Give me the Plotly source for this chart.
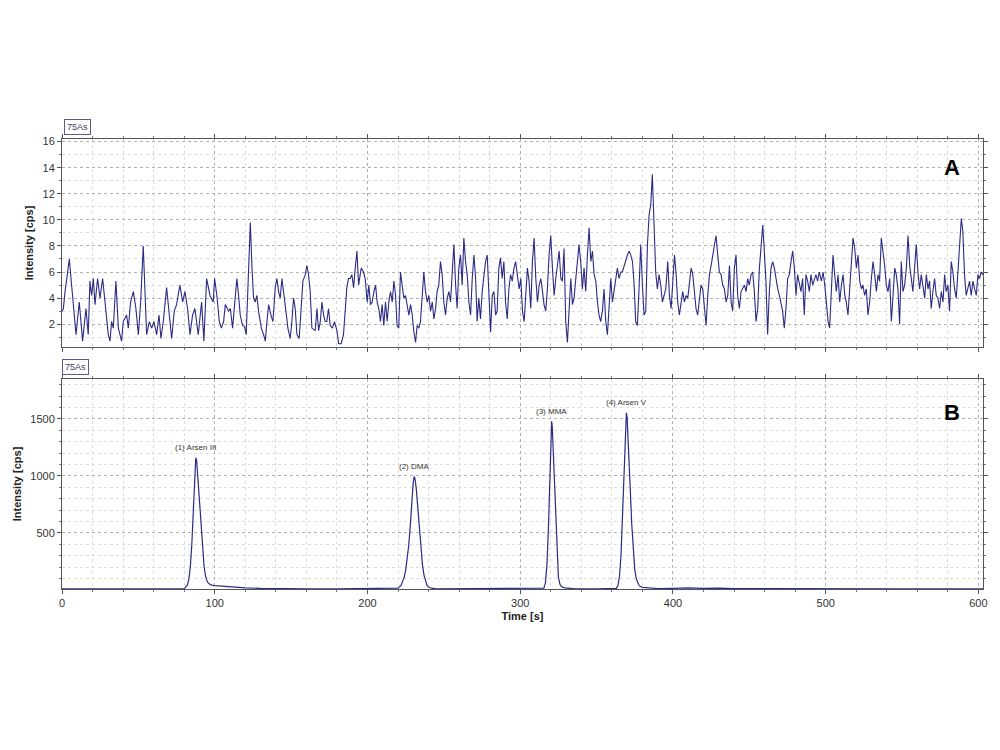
import plotly.graph_objects as go
from plotly.subplots import make_subplots

# ---------------- data ----------------
# Panel A: noisy 75As signal (time [s], intensity [cps])
trace_a_points = [
    (0.0, 3.0), (0.9, 3.2), (2.0, 4.5), (4.8, 7.0), (5.9, 5.5), (7.4, 3.7), (9.2, 1.2), (11.3, 3.7), (13.5, 0.7),
    (15.7, 3.2), (17.2, 1.2), (18.3, 5.3), (19.4, 4.2), (20.5, 5.5), (21.6, 3.5), (23.3, 5.5), (24.9, 4.0),
    (26.6, 5.5), (28.1, 3.7), (30.3, 1.2), (31.4, 0.7), (32.5, 2.2), (33.6, 1.7), (34.2, 2.7), (35.3, 5.3),
    (36.9, 1.7), (39.0, 0.7), (40.1, 2.2), (42.3, 2.7), (43.4, 1.7), (44.9, 3.7), (46.7, 4.5), (48.4, 3.2),
    (50.0, 1.2), (51.5, 3.7), (53.2, 8.0), (54.3, 4.5), (55.4, 1.2), (57.2, 2.2), (58.7, 1.7), (60.2, 2.2),
    (62.0, 1.2), (63.5, 2.7), (64.8, 0.9), (66.3, 2.2), (68.5, 4.8), (70.7, 2.2), (71.8, 0.9), (73.5, 3.0),
    (75.0, 3.5), (77.2, 5.0), (79.0, 3.7), (80.5, 4.5), (82.2, 3.2), (83.8, 1.2), (85.5, 2.7), (87.0, 3.2),
    (89.2, 1.2), (91.4, 3.7), (92.9, 0.7), (94.7, 5.5), (96.9, 4.2), (99.0, 3.7),
    (99.9, 5.5), (101.4, 4.2), (103.0, 2.2), (104.3, 1.7), (105.8, 2.2), (106.9, 3.5), (108.0, 3.2),
    (109.1, 3.0), (110.2, 3.2), (111.7, 1.7), (113.0, 3.5), (114.5, 5.5), (115.6, 4.2), (116.7, 2.7),
    (118.2, 1.9), (119.5, 1.8), (120.6, 1.2), (121.7, 4.8), (123.3, 9.8), (124.4, 6.3), (125.4, 4.0),
    (126.5, 3.7), (127.6, 4.2), (128.7, 3.0), (130.5, 1.7), (132.0, 1.2), (133.1, 0.7), (134.2, 2.2),
    (135.3, 3.5), (136.8, 2.7), (138.1, 2.2), (139.6, 4.8), (140.7, 5.5), (141.8, 4.5), (142.9, 4.0),
    (144.0, 5.5), (145.1, 4.2), (146.6, 3.0), (147.9, 1.7), (149.4, 0.9), (150.5, 2.2), (151.6, 4.0),
    (152.7, 3.2), (153.8, 1.2), (155.3, 0.9), (156.6, 3.7), (157.7, 5.3), (159.3, 5.8), (160.3, 6.5),
    (161.4, 5.8), (162.5, 4.5), (163.6, 1.7), (164.7, 1.6), (165.8, 1.5), (166.9, 3.2), (168.0, 1.5),
    (169.1, 2.2), (170.2, 3.7), (171.3, 2.7), (172.3, 2.2), (173.4, 2.2), (174.5, 3.2), (175.6, 1.9),
    (177.1, 1.7), (178.4, 2.2), (180.0, 1.5), (181.1, 0.5), (182.8, 0.5), (184.3, 1.2), (185.4, 3.2),
    (186.5, 4.8), (187.6, 5.5), (188.7, 5.5), (189.8, 5.8), (190.9, 4.8), (192.0, 6.3), (193.1, 7.6),
    (194.2, 5.0), (195.9, 6.3), (197.4, 6.0), (198.5, 5.5),
    (199.8, 3.7), (200.9, 5.0), (202.0, 3.5), (203.1, 3.7), (204.2, 4.5), (205.3, 5.0), (206.3, 3.7),
    (207.4, 3.2), (208.5, 2.2), (209.6, 3.5), (210.7, 1.9), (211.8, 3.7), (212.9, 2.2), (214.0, 3.7),
    (215.1, 4.5), (216.2, 3.7), (217.3, 5.3), (218.4, 4.2), (219.4, 1.9), (220.5, 1.7), (221.6, 6.0),
    (222.7, 5.0), (223.8, 4.0), (224.9, 4.2), (226.0, 3.5), (227.1, 2.7), (228.2, 3.5), (229.3, 2.7),
    (230.4, 1.4), (231.5, 0.6), (232.5, 1.9), (233.6, 1.7), (234.7, 2.2), (235.8, 4.2), (236.9, 6.0),
    (238.0, 4.5), (239.1, 3.7), (240.2, 4.2), (241.3, 3.0), (242.4, 3.7), (243.5, 2.4), (244.6, 3.2),
    (245.6, 4.5), (246.7, 5.0), (247.8, 6.8), (248.9, 5.8), (250.0, 3.7), (251.1, 2.7), (252.2, 4.0),
    (253.3, 4.5), (254.4, 3.7), (255.5, 6.0), (256.6, 8.1), (257.7, 5.0), (258.7, 3.2), (259.8, 6.3),
    (260.9, 7.3), (262.0, 5.0), (263.1, 8.6), (264.2, 6.8), (265.3, 5.8), (266.4, 3.7), (267.5, 2.7),
    (268.6, 5.5), (269.7, 7.3), (270.8, 5.5), (271.8, 2.2), (272.9, 4.0), (274.0, 2.4), (275.1, 4.5),
    (276.2, 5.5), (277.3, 6.8), (278.4, 7.3), (279.5, 3.7), (280.6, 1.4), (281.7, 4.2), (282.8, 4.5),
    (283.9, 2.7), (284.9, 3.0), (286.0, 6.3), (287.1, 7.1), (288.2, 5.5), (289.3, 6.8), (290.4, 3.7),
    (291.5, 2.4), (292.6, 4.7), (293.7, 5.8), (294.8, 5.3), (295.9, 6.3), (297.0, 6.8),
    (298.2, 5.8), (299.3, 4.7), (300.4, 5.5), (301.5, 3.0), (302.6, 2.2), (303.6, 4.5), (304.7, 6.3),
    (305.8, 5.3), (306.9, 3.2), (308.0, 6.8), (309.1, 8.6), (310.2, 5.5), (311.3, 3.7), (312.4, 5.0),
    (313.5, 5.5), (314.6, 4.5), (315.6, 3.5), (316.7, 3.0), (317.8, 4.7), (318.9, 7.3), (320.0, 8.8),
    (321.1, 6.3), (322.2, 4.2), (323.3, 5.5), (324.4, 6.5), (325.5, 7.6), (326.6, 5.5), (327.6, 5.3),
    (328.7, 7.8), (329.8, 2.2), (330.9, 0.6), (332.0, 3.2), (333.1, 5.5), (334.2, 3.5), (335.3, 4.0),
    (336.4, 5.5), (337.5, 6.8), (338.5, 8.1), (339.6, 6.8), (340.7, 4.7), (341.8, 6.3), (342.9, 4.5),
    (344.0, 7.3), (345.1, 9.4), (346.2, 6.8), (347.3, 7.6), (348.4, 5.8), (349.5, 5.3), (350.6, 3.7),
    (351.6, 2.7), (352.7, 2.2), (353.8, 3.0), (354.9, 4.7), (356.0, 2.2), (357.1, 1.2), (358.2, 3.0),
    (359.3, 5.5), (360.4, 3.7), (361.5, 4.5), (362.6, 5.3), (363.6, 6.3), (364.7, 5.5), (365.8, 6.0),
    (366.9, 6.0), (368.0, 6.5), (369.1, 6.8), (370.2, 7.3), (371.3, 7.6), (372.4, 7.3), (373.5, 6.8),
    (374.6, 5.0), (375.6, 2.2), (376.7, 1.9), (377.8, 4.7), (378.9, 8.1), (380.0, 5.0), (381.1, 2.7),
    (382.2, 3.0), (383.3, 8.1), (384.4, 10.4), (385.5, 11.2), (386.5, 13.5), (387.6, 10.4), (388.7, 6.0),
    (389.8, 4.7), (390.9, 5.8), (392.0, 5.0), (393.1, 3.7), (394.2, 4.2), (395.3, 4.7),
    (396.6, 6.8), (397.7, 4.2), (398.8, 3.2), (399.9, 5.8), (401.0, 7.3), (402.1, 5.8), (403.1, 3.7),
    (404.2, 2.7), (405.3, 3.7), (406.4, 4.5), (407.5, 3.7), (408.6, 4.2), (409.7, 4.0), (410.8, 5.3),
    (411.9, 6.3), (413.0, 5.8), (414.1, 4.5), (415.1, 3.2), (416.2, 2.7), (417.3, 3.7), (418.4, 5.0),
    (419.5, 4.7), (420.6, 3.2), (421.7, 1.9), (422.8, 4.2), (423.9, 5.8), (425.0, 6.5), (426.0, 7.3),
    (427.1, 8.1), (428.2, 8.8), (429.3, 7.3), (430.4, 6.0), (431.5, 5.8), (432.6, 5.0), (433.7, 4.7),
    (434.8, 3.7), (435.9, 4.2), (437.0, 6.5), (438.1, 3.7), (439.1, 3.0), (440.2, 6.3), (441.3, 7.3),
    (442.4, 4.2), (443.5, 3.2), (444.6, 4.5), (445.7, 4.7), (446.8, 5.0), (447.9, 4.5), (448.9, 5.5),
    (450.0, 5.0), (451.1, 5.8), (452.2, 6.0), (453.3, 4.5), (454.4, 2.2), (455.5, 3.2), (456.6, 6.3),
    (457.7, 8.1), (458.8, 9.6), (459.8, 7.6), (460.9, 5.3), (462.0, 1.2), (463.1, 4.5), (464.2, 6.3),
    (465.3, 6.8), (466.4, 6.3), (467.5, 5.3), (468.6, 4.7), (469.7, 4.2), (470.7, 3.7), (471.8, 3.0),
    (472.9, 1.7), (474.0, 3.2), (475.1, 5.5), (476.2, 5.8), (477.3, 6.8), (478.4, 7.6), (479.5, 6.3),
    (480.6, 4.2), (481.6, 5.8), (482.7, 5.0), (483.8, 4.5), (484.9, 5.5), (486.0, 2.7), (487.1, 5.8),
    (488.2, 5.3), (489.3, 4.5), (490.4, 5.8), (491.5, 5.0), (492.5, 5.5), (493.6, 5.8), (494.7, 5.3),
    (495.8, 6.0),
    (497.2, 5.3), (498.3, 6.0), (499.4, 5.0), (500.5, 3.7), (501.6, 2.2), (502.6, 1.7), (503.7, 4.2),
    (504.8, 7.3), (505.9, 5.8), (507.0, 4.5), (508.1, 5.8), (509.2, 3.7), (510.3, 5.0), (511.4, 5.8),
    (512.5, 4.2), (513.5, 3.7), (514.6, 2.7), (515.7, 5.0), (516.8, 6.8), (517.9, 8.6), (519.0, 7.8),
    (520.1, 6.3), (521.2, 7.3), (522.3, 5.3), (523.4, 4.7), (524.4, 5.0), (525.5, 4.2), (526.6, 4.7),
    (527.7, 2.7), (528.8, 3.7), (529.9, 5.5), (531.0, 6.8), (532.1, 5.8), (533.2, 4.5), (534.3, 5.8),
    (535.3, 5.3), (536.4, 8.6), (537.5, 7.6), (538.6, 6.5), (539.7, 5.0), (540.8, 4.5), (541.9, 5.5),
    (543.0, 2.2), (544.1, 4.2), (545.2, 6.3), (546.2, 5.8), (547.3, 4.7), (548.4, 2.0), (549.5, 6.8),
    (550.6, 4.5), (551.7, 5.0), (552.8, 6.3), (553.9, 8.8), (555.0, 6.5), (556.1, 5.5), (557.1, 4.5),
    (558.2, 6.3), (559.3, 8.1), (560.4, 6.0), (561.5, 4.7), (562.6, 5.8), (563.7, 5.0), (564.8, 4.0),
    (565.9, 5.8), (567.0, 4.7), (568.0, 5.3), (569.1, 3.2), (570.2, 4.5), (571.3, 5.5), (572.4, 4.2),
    (573.5, 4.0), (574.6, 3.2), (575.7, 4.5), (576.8, 3.7), (577.9, 5.8), (578.9, 4.5), (580.0, 5.0),
    (581.1, 3.0), (582.2, 6.8), (583.3, 6.0), (584.4, 4.7), (585.5, 4.0), (586.6, 6.3), (587.7, 8.3),
    (588.8, 10.1), (589.8, 9.1), (590.9, 5.8), (592.0, 4.2), (593.1, 4.7), (594.2, 5.3), (595.3, 4.2),
    (596.4, 5.3), (597.5, 4.7), (598.6, 4.2), (599.7, 5.8), (600.7, 5.5), (601.8, 6.0), (602.9, 5.8),
]

# Panel B: chromatogram of the standard (time [s], intensity [cps])
trace_b_points = [
    (0, 10), (20, 10), (40, 10), (60, 10), (78, 10), (80, 12), (82, 40), (83, 90), (84, 200), (85, 400),
    (86, 700), (87, 1020), (87.6, 1160), (88.2, 1130), (89, 980), (90, 760), (91, 540), (92, 350),
    (93, 210), (94, 120), (95, 75), (96, 55), (98, 42), (100, 38), (105, 32), (110, 26), (120, 18),
    (130, 13), (140, 10), (160, 10), (180, 10), (200, 10), (218, 10), (220, 15), (222, 40), (224, 110),
    (225, 170), (226, 260), (227, 390), (228, 560), (229, 780), (230, 950), (230.6, 995), (231.2, 970),
    (232, 880), (233, 710), (234, 520), (235, 350), (236, 220), (237, 130), (238, 75), (239, 40),
    (240, 25), (242, 15), (245, 10), (260, 11), (280, 10), (300, 10), (314, 10), (315.5, 15),
    (316.5, 60), (317.5, 220), (318.5, 560), (319.5, 1050), (320.3, 1460), (320.6, 1480), (321, 1430),
    (322, 1100), (323, 620), (324, 280), (325, 110), (326, 50), (327, 30), (329, 18), (332, 12),
    (336, 10), (350, 10), (361, 10), (363, 14), (364, 40), (365, 120), (366, 300), (367, 650),
    (368, 1100), (369, 1480), (369.5, 1555), (370, 1510), (371, 1250), (372, 900), (373, 580),
    (374, 340), (375, 180), (376, 95), (377, 55), (378, 35), (380, 22), (385, 15), (390, 12),
    (400, 14), (410, 18), (420, 13), (430, 16), (440, 11), (460, 10), (500, 10), (550, 10),
    (600, 10), (603, 10),
]

peak_names = ["(1) Arsen III", "(2) DMA", "(3) MMA", "(4) Arsen V"]
peak_times = [87.6, 230.6, 320.6, 369.5]
peak_heights = [1160, 995, 1480, 1555]

x_ticks = [0, 100, 200, 300, 400, 500, 600]
ya_ticks = [2, 4, 6, 8, 10, 12, 14, 16]
yb_ticks = [500, 1000, 1500]

# ---------------- figure ----------------
LINE = "#2b2b86"
FONT = "Liberation Sans, Arial, sans-serif"

fig = make_subplots(rows=2, cols=1, shared_xaxes=False, vertical_spacing=0.0)

fig.add_trace(go.Scatter(x=[p[0] for p in trace_a_points], y=[p[1] for p in trace_a_points],
                         mode="lines", line=dict(color=LINE, width=1.1), showlegend=False), row=1, col=1)
fig.add_trace(go.Scatter(x=[p[0] for p in trace_b_points], y=[p[1] for p in trace_b_points],
                         mode="lines", line=dict(color=LINE, width=1.2), showlegend=False), row=2, col=1)

axis_common = dict(
    showline=True, linecolor="#555555", linewidth=1, mirror="allticks",
    ticks="outside", ticklen=4, tickcolor="#555555",
    showgrid=True, gridcolor="#b0b0b0", griddash="dot", gridwidth=1,
    zeroline=False, tickfont=dict(family=FONT, size=11, color="#333333"),
)
minor_grid = dict(ticks="outside", ticklen=2, tickcolor="#777777",
                  showgrid=True, gridcolor="#dcdcdc", griddash="dot")

fig.update_xaxes(**axis_common, range=[0, 603], tickvals=x_ticks, minor=dict(dtick=20, **minor_grid))
fig.update_xaxes(showticklabels=False, row=1, col=1)
fig.update_xaxes(title=dict(text="<b>Time [s]</b>", font=dict(family=FONT, size=11, color="#222222"),
                            standoff=4), row=2, col=1)

fig.update_yaxes(**axis_common)
fig.update_yaxes(range=[0.25, 16.2], tickvals=ya_ticks, minor=dict(dtick=1, **minor_grid),
                 title=dict(text="<b>Intensity [cps]</b>", font=dict(family=FONT, size=11, color="#222222"),
                            standoff=6),
                 row=1, col=1)
fig.update_yaxes(range=[8, 1851], tickvals=yb_ticks, minor=dict(dtick=100, **minor_grid),
                 title=dict(text="<b>Intensity [cps]</b>", font=dict(family=FONT, size=11, color="#222222"),
                            standoff=6),
                 row=2, col=1)

fig.update_layout(
    width=1000, height=750,
    margin=dict(l=62, r=17, t=139, b=161),
    paper_bgcolor="white", plot_bgcolor="white",
    font=dict(family=FONT),
    yaxis=dict(domain=[0.5378, 1.0]),
    yaxis2=dict(domain=[0.0, 0.4667]),
)

annotations = []
# peak labels
for name, t, h in zip(peak_names, peak_times, peak_heights):
    annotations.append(dict(x=t, y=h, xref="x2", yref="y2", text=name, showarrow=False,
                            yshift=10, font=dict(family=FONT, size=8, color="#333333")))
# channel labels
annotations.append(dict(x=0.002, y=1.0, xref="paper", yref="paper", yanchor="bottom", xanchor="left",
                        text="75As", showarrow=False, yshift=4, bordercolor="#5a5a90", borderwidth=1,
                        borderpad=2, font=dict(family=FONT, size=9, color="#3a3a6a")))
annotations.append(dict(x=0.0, y=0.4667, xref="paper", yref="paper", yanchor="bottom", xanchor="left",
                        text="75As", showarrow=False, yshift=4, bordercolor="#5a5a90", borderwidth=1,
                        borderpad=2, font=dict(family=FONT, size=9, color="#3a3a6a")))
# panel letters
annotations.append(dict(x=0.966, y=0.936, xref="paper", yref="paper", xanchor="center", yanchor="middle",
                        text="<b>A</b>", showarrow=False, font=dict(family=FONT, size=22, color="black")))
annotations.append(dict(x=0.966, y=0.393, xref="paper", yref="paper", xanchor="center", yanchor="middle",
                        text="<b>B</b>", showarrow=False, font=dict(family=FONT, size=22, color="black")))
fig.update_layout(annotations=annotations)

fig.write_html("out.html")
